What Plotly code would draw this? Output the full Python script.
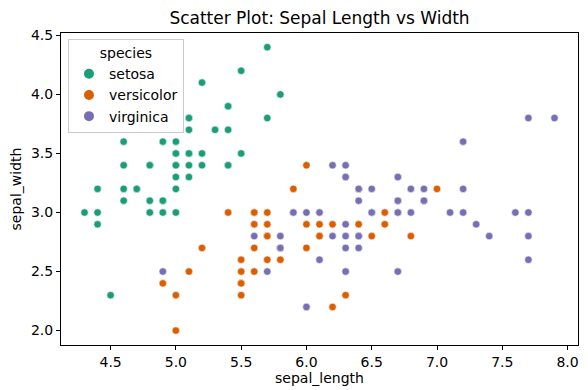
import plotly.graph_objects as go

setosa_x = [5.1,4.9,4.7,4.6,5.0,5.4,4.6,5.0,4.4,4.9,5.4,4.8,4.8,4.3,5.8,5.7,5.4,5.1,5.7,5.1,5.4,5.1,4.6,5.1,4.8,5.0,5.0,5.2,5.2,4.7,4.8,5.4,5.2,5.5,4.9,5.0,5.5,4.9,4.4,5.1,5.0,4.5,4.4,5.0,5.1,4.8,5.1,4.6,5.3,5.0]
setosa_y = [3.5,3.0,3.2,3.1,3.6,3.9,3.4,3.4,2.9,3.1,3.7,3.4,3.0,3.0,4.0,4.4,3.9,3.5,3.8,3.8,3.4,3.7,3.6,3.3,3.4,3.0,3.4,3.5,3.4,3.2,3.1,3.4,4.1,4.2,3.1,3.2,3.5,3.6,3.0,3.4,3.5,2.3,3.2,3.5,3.8,3.0,3.8,3.2,3.7,3.3]
versicolor_x = [7.0,6.4,6.9,5.5,6.5,5.7,6.3,4.9,6.6,5.2,5.0,5.9,6.0,6.1,5.6,6.7,5.6,5.8,6.2,5.6,5.9,6.1,6.3,6.1,6.4,6.6,6.8,6.7,6.0,5.7,5.5,5.5,5.8,6.0,5.4,6.0,6.7,6.3,5.6,5.5,5.5,6.1,5.8,5.0,5.6,5.7,5.7,6.2,5.1,5.7]
versicolor_y = [3.2,3.2,3.1,2.3,2.8,2.8,3.3,2.4,2.9,2.7,2.0,3.0,2.2,2.9,2.9,3.1,3.0,2.7,2.2,2.5,3.2,2.8,2.5,2.8,2.9,3.0,2.8,3.0,2.9,2.6,2.4,2.4,2.7,2.7,3.0,3.4,3.1,2.3,3.0,2.5,2.6,3.0,2.6,2.3,2.7,3.0,2.9,2.9,2.5,2.8]
virginica_x = [6.3,5.8,7.1,6.3,6.5,7.6,4.9,7.3,6.7,7.2,6.5,6.4,6.8,5.7,5.8,6.4,6.5,7.7,7.7,6.0,6.9,5.6,7.7,6.3,6.7,7.2,6.2,6.1,6.4,7.2,7.4,7.9,6.4,6.3,6.1,7.7,6.3,6.4,6.0,6.9,6.7,6.9,5.8,6.8,6.7,6.7,6.3,6.5,6.2,5.9]
virginica_y = [3.3,2.7,3.0,2.9,3.0,3.0,2.5,2.9,2.5,3.6,3.2,2.7,3.0,2.5,2.8,3.2,3.0,3.8,2.6,2.2,3.2,2.8,2.8,2.7,3.3,3.2,2.8,3.0,2.8,3.0,2.8,3.8,2.8,2.8,2.6,3.0,3.4,3.1,3.0,3.1,3.1,3.1,2.7,3.2,3.3,3.0,2.5,3.0,3.4,3.0]

species = ["setosa", "versicolor", "virginica"]
colors = ["#1b9e77", "#d95f02", "#7570b3"]
xs = [setosa_x, versicolor_x, virginica_x]
ys = [setosa_y, versicolor_y, virginica_y]

fig = go.Figure()
for name, c, x, y in zip(species, colors, xs, ys):
    fig.add_trace(go.Scatter(
        x=x, y=y, mode="markers", name=name, cliponaxis=False,
        marker=dict(color=c, size=7.5, line=dict(color="white", width=0.6)),
    ))

font = "DejaVu Sans"
axis_common = dict(
    showgrid=False, zeroline=False, showline=True, linecolor="black", linewidth=1,
    mirror=True, ticks="outside", ticklen=4, tickcolor="black", tickwidth=1,
    tickfont=dict(family=font, size=14, color="black"), automargin=False,
)
# page has an 8px default body margin, so the figure is 580x382
fig.update_layout(
    width=580, height=382,
    margin=dict(l=53, r=10, t=25, b=45),
    plot_bgcolor="white", paper_bgcolor="white",
    title=dict(text="Scatter Plot: Sepal Length vs Width", x=0.5, xref="paper",
               y=1 - 10/382, yanchor="middle",
               font=dict(family=font, size=17, color="black")),
    xaxis=dict(range=[4.12, 8.08], tickvals=[4.5,5.0,5.5,6.0,6.5,7.0,7.5,8.0],
               ticktext=["4.5","5.0","5.5","6.0","6.5","7.0","7.5","8.0"],
               title=dict(text="sepal_length", font=dict(family=font, size=14, color="black"), standoff=4),
               **axis_common),
    yaxis=dict(range=[1.878, 4.52], tickvals=[2.0,2.5,3.0,3.5,4.0,4.5],
               ticktext=["2.0","2.5","3.0","3.5","4.0","4.5"],
               title=dict(text="sepal_width", font=dict(family=font, size=14, color="black"), standoff=6),
               **axis_common),
    legend=dict(x=0.0135, y=0.981, xanchor="left", yanchor="top",
                bgcolor="rgba(255,255,255,0.8)", bordercolor="#cccccc", borderwidth=1,
                font=dict(family=font, size=14, color="black"),
                title=dict(text="species", side="top center", font=dict(family=font, size=14, color="black")),
                itemsizing="constant", tracegroupgap=0),
    showlegend=True,
)
fig.write_html("out.html")
